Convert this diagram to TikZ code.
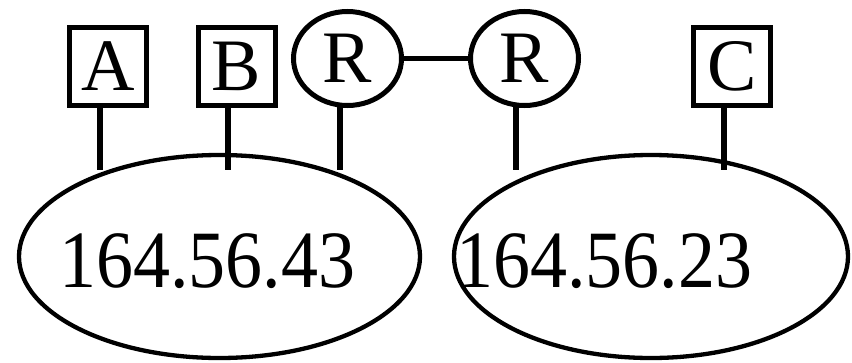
\documentclass[tikz,border=0pt]{standalone}
\usepackage{fontspec}
\setmainfont{Liberation Serif}
\usetikzlibrary{shapes.geometric}
\begin{document}
\begin{tikzpicture}[x=1pt,y=-1pt,
  big/.style={font=\fontsize{74}{80}\selectfont},
  hostbox/.style={draw,line width=5pt,rectangle,minimum width=77pt,minimum height=78pt,inner sep=0pt,big},
  router/.style={draw,line width=5pt,ellipse,minimum width=108pt,minimum height=94pt,inner sep=0pt,big},
  net/.style={draw,line width=4.3pt,ellipse,inner sep=0pt},
  conn/.style={line width=5.5pt}]
\useasboundingbox (0,0) rectangle (852,362);
\node[hostbox] (A) at (108,66.5) {A};
\node[hostbox] (B) at (236.5,66.5) {B};
\node[router] (R1) at (347.5,58.5) {R};
\node[router] (R2) at (524.5,58.5) {R};
\node[hostbox] (C) at (732,66.5) {C};
\node[net,minimum width=401pt,minimum height=203pt] (N1) at (219.5,256.5) {};
\node[net,minimum width=394pt,minimum height=203pt] (N2) at (651,256.5) {};
\node[big,anchor=base west,inner sep=0pt] (T1) at (59,287) {\scalebox{1}[1.1]{164.56.43}};
\node[big,anchor=base west,inner sep=0pt] (T2) at (456,287) {\scalebox{1}[1.1]{164.56.23}};
\coordinate (a1) at (100,170);
\coordinate (b1) at (228,170);
\coordinate (r1) at (340,170);
\coordinate (r2) at (516,170);
\coordinate (c1) at (724,170);
\draw[conn] (A.south -| a1) -- (a1);
\draw[conn] (B.south -| b1) -- (b1);
\draw[conn] (r1 |- 0,106) -- (r1);
\draw[conn] (r2 |- 0,106) -- (r2);
\draw[conn] (C.south -| c1) -- (c1);
\draw[conn] (R1.east) -- (R2.west);
\end{tikzpicture}
\end{document}
